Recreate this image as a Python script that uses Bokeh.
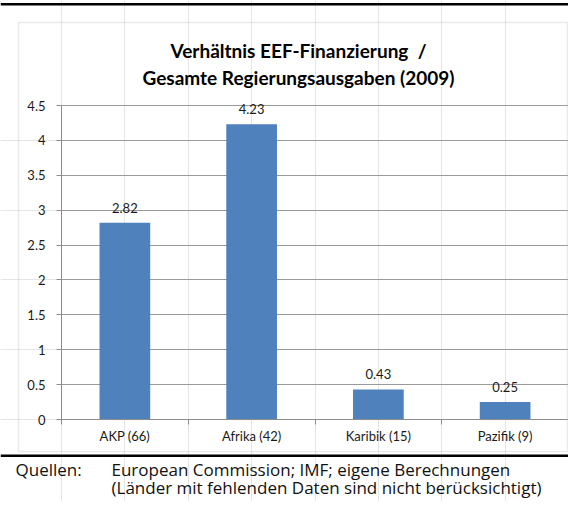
import numpy as np
from bokeh.plotting import figure
from bokeh.models import (ColumnDataSource, Range1d, FixedTicker, LabelSet, Label,
                          BoxAnnotation, NumeralTickFormatter, LinearAxis, Grid)
from bokeh.core.properties import value
from bokeh.embed import file_html
from bokeh.resources import INLINE

# ---- data ----
categories = ["AKP (66)", "Afrika (42)", "Karibik (15)", "Pazifik (9)"]
ratios = [2.82, 4.23, 0.43, 0.25]
ratio_labels = ["2.82", "4.23", "0.43", "0.25"]
y_ticks = [0, 0.5, 1, 1.5, 2, 2.5, 3, 3.5, 4, 4.5]
title_lines = ["Verhältnis EEF-Finanzierung\u00a0 /", "Gesamte Regierungsausgaben (2009)"]
source_head = "Quellen:"
source_lines = ["European Commission; IMF; eigene Berechnungen",
                "(Länder mit fehlenden Daten sind nicht berücksichtigt)"]

# ---- layout (pixels inside the figure) ----
W, H = 568, 501
PL, PR, PT, PB = 61, 568, 105, 419     # plot area in pixels
n = len(categories)
ymax = y_ticks[-1]
FONT = "Lato"
NOTE_FONT = "Open Sans"
GREY = "#8c8c8c"


def dx(px):
    return (px - PL) / (PR - PL) * n


def dy(py):
    return (PB - py) / (PB - PT) * ymax


pos = np.arange(n) + 0.5
src = ColumnDataSource(dict(x=pos, top=ratios, lab=ratio_labels))

p = figure(width=W, height=H, output_backend="svg", toolbar_location=None,
           x_range=Range1d(dx(0), dx(W)), y_range=Range1d(dy(H), dy(0)),
           x_axis_location=None, y_axis_location=None, min_border=0)
p.outline_line_color = None
p.background_fill_color = "white"
p.border_fill_color = "white"

# horizontal gridlines
if "cross_bounds" in Grid.properties():
    p.add_layout(Grid(dimension=1, ticker=FixedTicker(ticks=y_ticks), bounds=(0, ymax),
                      cross_bounds=(0, n), grid_line_color="#9a9a9a"))
else:
    p.segment(x0=0, x1=n, y0=y_ticks, y1=y_ticks, line_color="#9a9a9a", level="underlay")

p.vbar(x="x", top="top", width=0.4, source=src, fill_color="#4F81BD", line_color=None)

p.add_layout(LabelSet(x="x", y="top", text="lab", source=src, text_align="center",
                      text_baseline="bottom", y_offset=10, text_font=value(FONT),
                      text_font_size=value("13px"), text_color="#1a1a1a"))

# y axis
yax = LinearAxis(fixed_location=0, bounds=(0, ymax), ticker=FixedTicker(ticks=y_ticks),
                 formatter=NumeralTickFormatter(format="0.[0]"))
yax.axis_line_color = GREY
yax.major_tick_line_color = GREY
yax.major_tick_out = 5
yax.major_tick_in = 0
yax.minor_tick_line_color = None
yax.major_label_standoff = 11
yax.major_label_text_font = FONT
yax.major_label_text_font_size = "13px"
yax.major_label_text_color = "#1a1a1a"
p.add_layout(yax, "left")

# x axis: labels at centres, tick marks at category boundaries
xax = LinearAxis(fixed_location=0, bounds=(0, n),
                 ticker=FixedTicker(ticks=list(pos), minor_ticks=list(range(n + 1))))
xax.major_label_overrides = {float(v): c for v, c in zip(pos, categories)}
xax.axis_line_color = GREY
xax.major_tick_line_color = None
xax.major_tick_out = 0
xax.major_tick_in = 0
xax.minor_tick_line_color = GREY
xax.minor_tick_out = 5
xax.minor_tick_in = 0
xax.major_label_standoff = 3
xax.major_label_text_font = FONT
xax.major_label_text_font_size = "13px"
xax.major_label_text_color = "#1a1a1a"
p.add_layout(xax, "below")

# chart box and black rules
p.add_layout(BoxAnnotation(left=dx(18), right=dx(567), top=dy(22), bottom=dy(451),
                           fill_alpha=0, line_color="#b8b8b8", line_width=1.5))
p.add_layout(BoxAnnotation(left=dx(0), right=dx(W), top=dy(2.5), bottom=dy(5),
                           fill_color="black", fill_alpha=1, line_color=None))
p.add_layout(BoxAnnotation(left=dx(0), right=dx(W), top=dy(454), bottom=dy(456.5),
                           fill_color="black", fill_alpha=1, line_color=None))

# title
for i, t in enumerate(title_lines):
    p.add_layout(Label(x=dx(298), y=dy(50 + 27 * i), text=t, text_align="center",
                       text_baseline="middle", text_font=FONT, text_font_style="bold",
                       text_font_size="19px", text_color="black"))

# source note
p.add_layout(Label(x=dx(15), y=dy(469), text=source_head, text_align="left",
                   text_baseline="middle", text_font=NOTE_FONT, text_font_size="17px",
                   text_color="#111111"))
for i, t in enumerate(source_lines):
    p.add_layout(Label(x=dx(111), y=dy(469 + 18 * i), text=t, text_align="left",
                       text_baseline="middle", text_font=NOTE_FONT, text_font_size="17px",
                       text_color="#111111"))

open("out.html", "w").write(file_html(p, INLINE))
